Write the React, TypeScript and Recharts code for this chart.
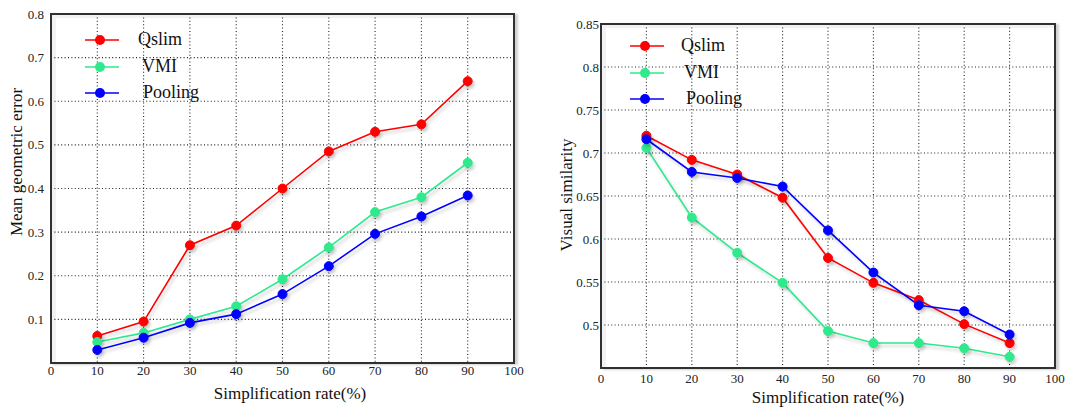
import React from 'react';
import { LineChart, Line, XAxis, YAxis, CartesianGrid, Legend } from 'recharts';

const rates = [10, 20, 30, 40, 50, 60, 70, 80, 90];
const xTicks = [0, 10, 20, 30, 40, 50, 60, 70, 80, 90, 100];

const geoQslim = [0.062, 0.095, 0.27, 0.315, 0.4, 0.485, 0.53, 0.547, 0.646];
const geoVMI = [0.048, 0.069, 0.1, 0.13, 0.192, 0.265, 0.346, 0.38, 0.459];
const geoPooling = [0.03, 0.058, 0.092, 0.112, 0.158, 0.222, 0.296, 0.336, 0.384];
const geoTicks = [0.1, 0.2, 0.3, 0.4, 0.5, 0.6, 0.7, 0.8];

const simQslim = [0.72, 0.692, 0.675, 0.648, 0.578, 0.549, 0.529, 0.501, 0.479];
const simVMI = [0.706, 0.625, 0.584, 0.549, 0.493, 0.479, 0.479, 0.473, 0.463];
const simPooling = [0.716, 0.678, 0.671, 0.661, 0.61, 0.561, 0.523, 0.516, 0.489];
const simTicks = [0.5, 0.55, 0.6, 0.65, 0.7, 0.75, 0.8, 0.85];

const seriesNames = ['Qslim', 'VMI', 'Pooling'];
const seriesColors = ['#ff0000', '#2eea8c', '#0000ff'];

const FONT = "'Liberation Serif', 'Times New Roman', serif";
const CHART_H = 408;

function buildRows(a: number[], b: number[], c: number[]) {
  return rates.map((r, i) => ({ rate: r, Qslim: a[i], VMI: b[i], Pooling: c[i] }));
}

const geoData = buildRows(geoQslim, geoVMI, geoPooling);
const simData = buildRows(simQslim, simVMI, simPooling);

type PanelProps = {
  data: any[];
  left: number;
  width: number;
  margin: { top: number; right: number; bottom: number; left: number };
  yWidth: number;
  xHeight: number;
  yDomain: [number, number];
  yTicks: number[];
  yTitle: string;
  yTitlePos: [number, number];
  xTitlePos: [number, number];
  xTickMargin: number;
  yTickMargin: number;
  legendPos: { left: number; top: number; textLeft: number[] };
};

function LegendBox({ pos }: { pos: PanelProps['legendPos'] }) {
  return (
    <div style={{ position: 'relative', width: 120, height: 80 }}>
      {seriesNames.map((n, i) => (
        <div key={n} style={{ position: 'absolute', left: 0, top: i * 26.5, height: 20, width: 160 }}>
          <svg width={36} height={20} style={{ position: 'absolute', left: 0, top: 0, overflow: 'visible' }}>
            <line x1={0} y1={10} x2={34} y2={10} stroke={seriesColors[i]} strokeWidth={1.6} />
            <circle cx={15} cy={10} r={5} fill={seriesColors[i]} />
          </svg>
          <span
            style={{
              position: 'absolute',
              left: pos.textLeft[i],
              top: -1,
              fontFamily: FONT,
              fontSize: 18,
              lineHeight: '20px',
              color: '#111',
              whiteSpace: 'nowrap',
            }}
          >
            {n}
          </span>
        </div>
      ))}
    </div>
  );
}

const tickStyle = { fill: '#222', fontSize: 13, style: { fontFamily: FONT } } as any;

function Panel(p: PanelProps) {
  const plotLeft = p.margin.left + p.yWidth;
  const plotTop = p.margin.top;
  const plotW = p.width - plotLeft - p.margin.right;
  const plotH = CHART_H - plotTop - p.xHeight - p.margin.bottom;
  return (
    <div style={{ position: 'absolute', left: p.left, top: 0, width: p.width, height: CHART_H }}>
      <LineChart width={p.width} height={CHART_H} data={p.data} margin={p.margin}>
        <CartesianGrid stroke="#222" strokeDasharray="1 2.4" strokeWidth={1.1} />
        <XAxis
          dataKey="rate"
          type="number"
          domain={[0, 100]}
          ticks={xTicks}
          interval={0}
          height={p.xHeight}
          axisLine={false}
          tickLine={false}
          tickSize={0}
          tickMargin={p.xTickMargin}
          tick={tickStyle}
          label={{
            content: () => (
              <text
                x={p.xTitlePos[0]}
                y={p.xTitlePos[1]}
                textAnchor="middle"
                dominantBaseline="central"
                style={{ fontFamily: FONT, fontSize: 17 }}
                fill="#111"
              >
                Simplification rate(%)
              </text>
            ),
          }}
        />
        <YAxis
          type="number"
          domain={p.yDomain}
          ticks={p.yTicks}
          interval={0}
          width={p.yWidth}
          axisLine={false}
          tickLine={false}
          tickSize={0}
          tickMargin={p.yTickMargin}
          allowDataOverflow
          tick={tickStyle}
          label={{
            content: () => (
              <text
                x={p.yTitlePos[0]}
                y={p.yTitlePos[1]}
                transform={`rotate(-90 ${p.yTitlePos[0]} ${p.yTitlePos[1]})`}
                textAnchor="middle"
                dominantBaseline="central"
                style={{ fontFamily: FONT, fontSize: 17 }}
                fill="#111"
              >
                {p.yTitle}
              </text>
            ),
          }}
        />
        {seriesNames.map((n, i) => (
          <Line
            key={n}
            type="linear"
            dataKey={n}
            stroke={seriesColors[i]}
            strokeWidth={1.6}
            dot={{ r: 4.5, fill: seriesColors[i], stroke: seriesColors[i], strokeWidth: 1 }}
            activeDot={false}
            isAnimationActive={false}
          />
        ))}
        <Legend
          layout="vertical"
          align="center"
          verticalAlign="middle"
          wrapperStyle={{ position: 'absolute', left: p.legendPos.left, top: p.legendPos.top, width: 160, height: 80 }}
          content={() => <LegendBox pos={p.legendPos} />}
        />
      </LineChart>
      <div
        style={{
          position: 'absolute',
          zIndex: 5,
          left: plotLeft - 1,
          top: plotTop - 1,
          width: plotW - 2,
          height: plotH - 2,
          border: '2px solid #303030',
          boxSizing: 'content-box',
          boxShadow: '3px 1px 2px rgba(0,0,0,0.18), inset 4px 3px 0 rgba(0,0,0,0.05)',
          pointerEvents: 'none',
        }}
      />
    </div>
  );
}

export default function App() {
  return (
    <div style={{ position: 'absolute', left: 0, top: 0, width: 1081, height: 408, background: '#fff' }}>
      <style>{`
        .recharts-wrapper text { font-family: 'Liberation Serif', 'Times New Roman', serif; }
        .recharts-line path, .recharts-line-dots { filter: drop-shadow(2px 3px 1.5px rgba(0,0,0,0.18)); }
      `}</style>
      <Panel
        data={geoData}
        left={0}
        width={540}
        margin={{ top: 14, right: 26, bottom: 0, left: 0 }}
        yWidth={51}
        xHeight={45}
        yDomain={[0, 0.8]}
        yTicks={geoTicks}
        yTitle="Mean geometric error"
        yTitlePos={[16, 162]}
        xTitlePos={[290, 393]}
        xTickMargin={3}
        yTickMargin={7}
        legendPos={{ left: 85, top: 30, textLeft: [53, 57, 58] }}
      />
      <Panel
        data={simData}
        left={540}
        width={541}
        margin={{ top: 24, right: 26, bottom: 0, left: 0 }}
        yWidth={61}
        xHeight={40}
        yDomain={[0.45, 0.85]}
        yTicks={simTicks}
        yTitle="Visual similarity"
        yTitlePos={[26, 195]}
        xTitlePos={[288, 397]}
        xTickMargin={6}
        yTickMargin={2}
        legendPos={{ left: 90, top: 36, textLeft: [51, 54, 56] }}
      />
    </div>
  );
}
